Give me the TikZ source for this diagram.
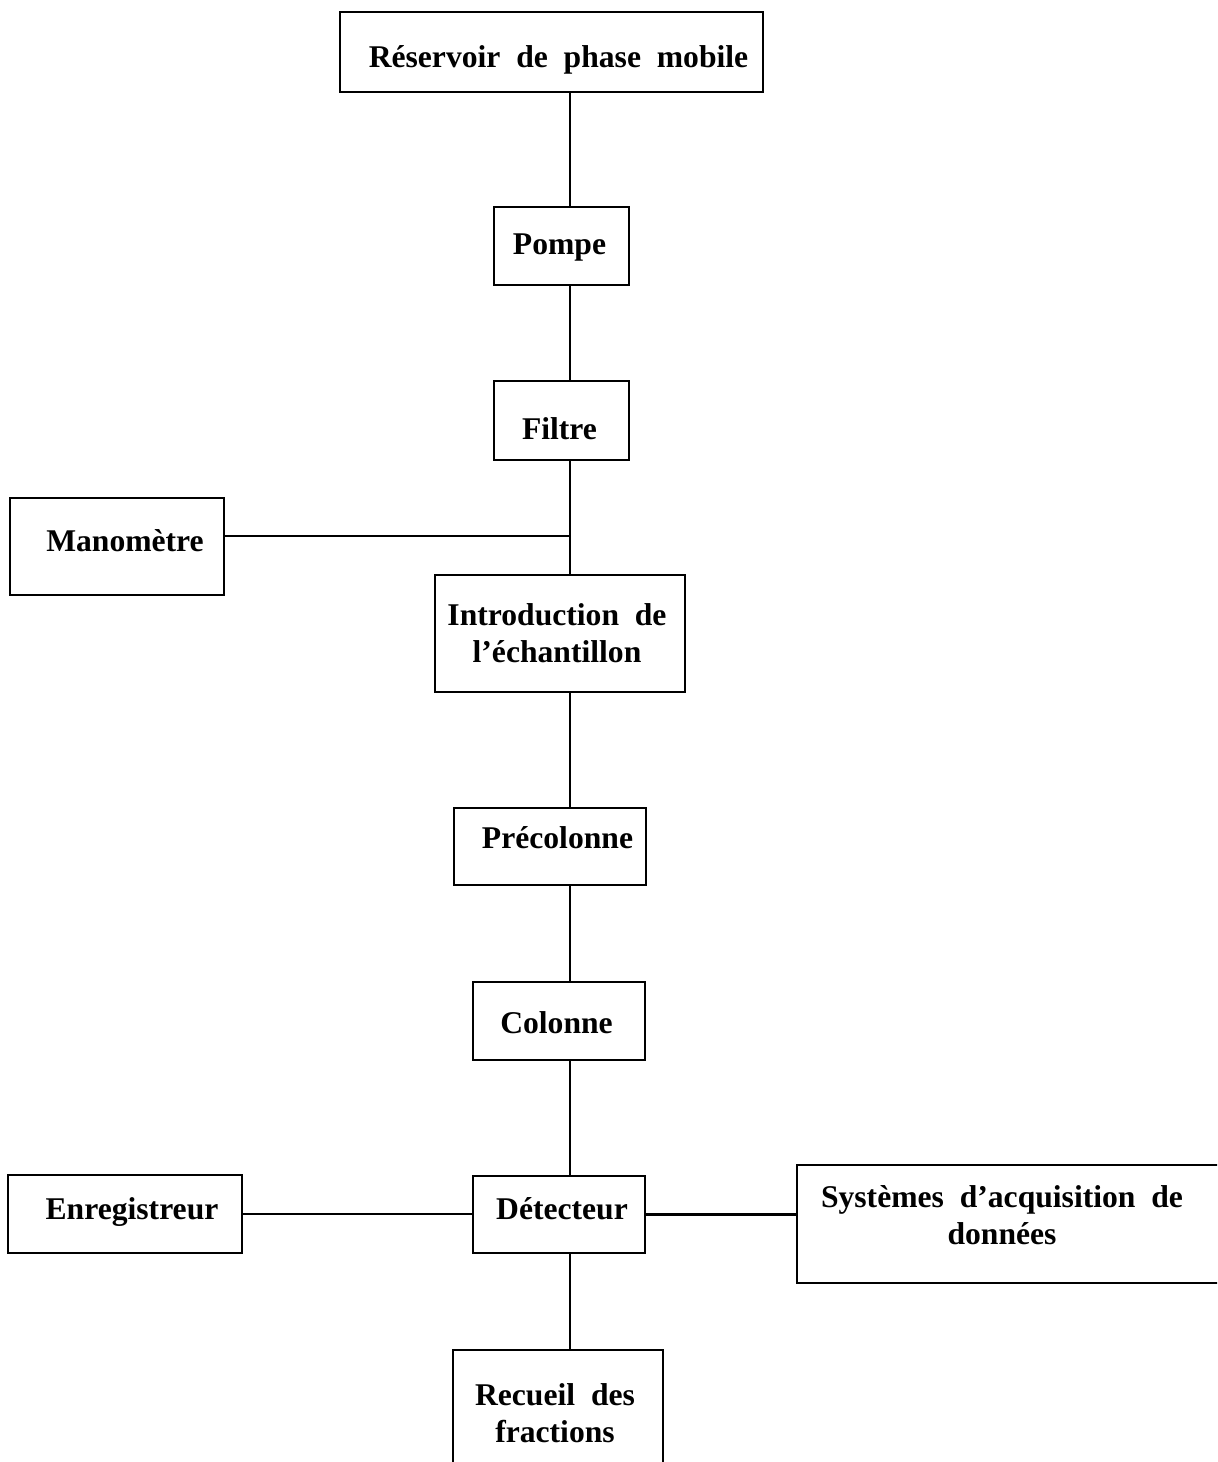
\documentclass[tikz,border=0pt]{standalone}
\usepackage{fontspec}
\setmainfont{Liberation Serif}
\usepackage{tikz}

\tikzset{box/.style={draw, line width=1.1pt, inner sep=0pt},
    txt/.style={align=center, inner sep=0pt, font=\bfseries\fontsize{18}{21}\selectfont},
    link/.style={line width=1.2pt}}

\begin{document}
\begin{tikzpicture}[x=0.02cm,y=-0.02cm]

            %\draw [help lines] (0,0) grid (1217,1462);
            \useasboundingbox (0,0) rectangle (1217,1462);
            \clip (0,0) rectangle (1217,1462);

            \path   (551.5,52) node (res) [box,minimum width=8.46cm,minimum height=1.6cm,
                        label={[txt,shift={(7,8)}]center:R\'eservoir\ \ de\ \ phase\ \ mobile}] {}
                    (561.5,246) node (pompe) [box,minimum width=2.7cm,minimum height=1.56cm,
                        label={[txt,shift={(-2,2)}]center:Pompe}] {}
                    (561.5,420.5) node (filtre) [box,minimum width=2.7cm,minimum height=1.58cm,
                        label={[txt,shift={(-2,8)}]center:Filtre}] {}
                    (117,546.5) node (mano) [box,minimum width=4.28cm,minimum height=1.94cm,
                        label={[txt,shift={(8,-6)}]center:Manom\`etre}] {}
                    (560,633.5) node (intro) [box,minimum width=5cm,minimum height=2.34cm,
                        label={[txt,shift={(-3,0)}]center:Introduction\ \ de\\l’\'echantillon}] {}
                    (550,846.5) node (preco) [box,minimum width=3.84cm,minimum height=1.54cm,
                        label={[txt,shift={(7.5,-9)}]center:Pr\'ecolonne}] {}
                    (559,1021) node (col) [box,minimum width=3.44cm,minimum height=1.56cm,
                        label={[txt,shift={(-2.5,2)}]center:Colonne}] {}
                    (125,1214) node (enreg) [box,minimum width=4.68cm,minimum height=1.56cm,
                        label={[txt,shift={(7,-2)}]center:Enregistreur}] {}
                    (559,1214.5) node (detect) [box,minimum width=3.44cm,minimum height=1.54cm,
                        label={[txt,shift={(3,-6)}]center:D\'etecteur}] {}
                    (1009,1224) node (sys) [box,minimum width=8.48cm,minimum height=2.36cm,
                        label={[txt,shift={(-7,-9)}]center:Syst\`emes\ \ d’acquisition\ \ de\\donn\'ees}] {}
                    (558,1415) node (rec) [box,minimum width=4.2cm,minimum height=2.6cm,
                        label={[txt,shift={(-3,-2)}]center:Recueil\ \ des\\fractions}] {};

            \coordinate (spine) at (570,0);
            \coordinate (jmano) at (570,536);

            \draw[link] (res.south -| spine) -- (pompe.north -| spine);
            \draw[link] (pompe.south -| spine) -- (filtre.north -| spine);
            \draw[link] (filtre.south -| spine) -- (intro.north -| spine);
            \draw[link] (mano.east |- jmano) -- (jmano);
            \draw[link] (intro.south -| spine) -- (preco.north -| spine);
            \draw[link] (preco.south -| spine) -- (col.north -| spine);
            \draw[link] (col.south -| spine) -- (detect.north -| spine);
            \draw[link] (enreg.east) -- (enreg.east -| detect.west);
            \draw[link] (detect.east) -- (detect.east -| sys.west);
            \draw[link] (detect.south -| spine) -- (rec.north -| spine);

        \end{tikzpicture}
\end{document}
